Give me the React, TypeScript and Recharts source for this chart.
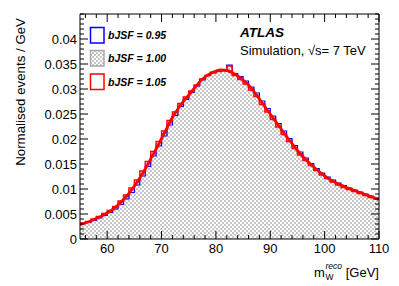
import React from "react";
import { ComposedChart, Area, Line, XAxis, YAxis, Customized } from "recharts";

// bin low edges (GeV), last entry closes the final step
const binEdges = [
  55, 56, 57, 58, 59, 60, 61, 62, 63, 64, 65, 66, 67, 68, 69, 70, 71, 72, 73, 74,
  75, 76, 77, 78, 79, 80, 81, 82, 83, 84, 85, 86, 87, 88, 89, 90, 91, 92, 93, 94,
  95, 96, 97, 98, 99, 100, 101, 102, 103, 104, 105, 106, 107, 108, 109, 110,
];

// bJSF = 1.00 (nominal)
const nominal = [
  0.0031, 0.0034, 0.0039, 0.0043, 0.0049, 0.0055, 0.0063, 0.0073, 0.0084, 0.0098,
  0.0113, 0.0131, 0.015, 0.017, 0.019, 0.0211, 0.0233, 0.025, 0.0268, 0.0281,
  0.0294, 0.0307, 0.0319, 0.0327, 0.0333, 0.0336, 0.0338, 0.0347, 0.0329, 0.0322,
  0.0313, 0.0301, 0.0288, 0.0272, 0.0257, 0.0242, 0.0227, 0.0212, 0.0198, 0.0184,
  0.0171, 0.0159, 0.0149, 0.0139, 0.013, 0.0122, 0.0116, 0.011, 0.0105, 0.0101,
  0.0097, 0.0093, 0.0089, 0.0085, 0.0081,
];

// bJSF = 0.95
const bjsfDown = [
  0.0031, 0.0033, 0.0037, 0.0042, 0.0047, 0.0053, 0.006, 0.0069, 0.008, 0.0093,
  0.0108, 0.0126, 0.0145, 0.0166, 0.0186, 0.0206, 0.0228, 0.0247, 0.0265, 0.0279,
  0.0293, 0.0306, 0.0318, 0.0327, 0.0334, 0.0337, 0.0339, 0.0348, 0.0331, 0.0325,
  0.0316, 0.0304, 0.0292, 0.0276, 0.0261, 0.0246, 0.0231, 0.0216, 0.0201, 0.0187,
  0.0174, 0.0162, 0.0151, 0.0141, 0.0132, 0.0124, 0.0118, 0.0112, 0.0107, 0.0102,
  0.0098, 0.0094, 0.009, 0.0086, 0.0082,
];

// bJSF = 1.05
const bjsfUp = [
  0.0032, 0.0035, 0.004, 0.0045, 0.0051, 0.0057, 0.0065, 0.0076, 0.0088, 0.0102,
  0.0118, 0.0136, 0.0155, 0.0175, 0.0195, 0.0216, 0.0237, 0.0254, 0.0271, 0.0284,
  0.0296, 0.0308, 0.032, 0.0327, 0.0332, 0.0335, 0.0337, 0.0346, 0.0327, 0.0319,
  0.031, 0.0298, 0.0285, 0.0269, 0.0254, 0.0239, 0.0224, 0.0209, 0.0195, 0.0181,
  0.0168, 0.0157, 0.0147, 0.0137, 0.0128, 0.0121, 0.0114, 0.0108, 0.0103, 0.0099,
  0.0095, 0.0091, 0.0087, 0.0083, 0.008,
];

// fitted template for bJSF = 1.05, sampled at the bin edges
const fitValues = [
  0.0029, 0.0032, 0.0036, 0.0041, 0.0046, 0.0052, 0.0059, 0.0068, 0.0079, 0.0091,
  0.0106, 0.0122, 0.014, 0.016, 0.018, 0.0201, 0.0222, 0.0243, 0.026, 0.0275,
  0.0288, 0.0301, 0.0314, 0.0324, 0.0331, 0.0336, 0.0338, 0.0337, 0.0333, 0.0326,
  0.0318, 0.0308, 0.0295, 0.028, 0.0265, 0.025, 0.0235, 0.022, 0.0205, 0.0191,
  0.0177, 0.0165, 0.0154, 0.0144, 0.0135, 0.0126, 0.0119, 0.0113, 0.0108, 0.0103,
  0.0099, 0.0095, 0.0091, 0.0087, 0.0083, 0.0079,
];

const seriesNames = ["bJSF = 0.95", "bJSF = 1.00", "bJSF = 1.05"];
const xMajorTicks = [60, 70, 80, 90, 100, 110];
const xTickLabels = ["60", "70", "80", "90", "100", "110"];
const yMajorTicks = [0, 0.005, 0.01, 0.015, 0.02, 0.025, 0.03, 0.035, 0.04];
const yTickLabels = ["0", "0.005", "0.01", "0.015", "0.02", "0.025", "0.03", "0.035", "0.04"];

const FONT = "'Liberation Sans', Arial, Helvetica, sans-serif";

const last = (arr: number[], i: number) => arr[Math.min(i, arr.length - 1)];
const data = binEdges.map((x, i) => ({
  x,
  nom: last(nominal, i),
  down: last(bjsfDown, i),
  up: last(bjsfUp, i),
  fit: fitValues[i],
}));

const xTicks: number[] = [];
for (let v = 56; v <= 110; v += 2) xTicks.push(v);
const yTicks: number[] = [];
for (let i = 0; i <= 45; i++) yTicks.push(i / 1000);

const findLabel = (v: number, majors: number[], labels: string[]) => {
  const idx = majors.findIndex((m) => Math.abs(m - v) < 1e-7);
  return idx >= 0 ? labels[idx] : null;
};

const BottomTick = (props: any) => {
  const { x, y, payload } = props;
  const label = findLabel(payload.value, xMajorTicks, xTickLabels);
  return (
    <g>
      <line x1={x} x2={x} y1={y} y2={y - (label ? 8 : 4)} stroke="#000" />
      {label && (
        <text x={x} y={y + 14} textAnchor="middle" fontSize={13} fontFamily={FONT} fill="#000">
          {label}
        </text>
      )}
    </g>
  );
};

const TopTick = (props: any) => {
  const { x, y, payload } = props;
  const major = findLabel(payload.value, xMajorTicks, xTickLabels) !== null;
  return <line x1={x} x2={x} y1={y} y2={y + (major ? 8 : 4)} stroke="#000" />;
};

const LeftTick = (props: any) => {
  const { x, y, payload } = props;
  const label = findLabel(payload.value, yMajorTicks, yTickLabels);
  return (
    <g>
      <line x1={x} x2={x + (label ? 8 : 4)} y1={y} y2={y} stroke="#000" />
      {label && (
        <text x={x - 3} y={y + 4.5} textAnchor="end" fontSize={13} fontFamily={FONT} fill="#000">
          {label}
        </text>
      )}
    </g>
  );
};

const RightTick = (props: any) => {
  const { x, y, payload } = props;
  const major = findLabel(payload.value, yMajorTicks, yTickLabels) !== null;
  return <line x1={x} x2={x - (major ? 8 : 4)} y1={y} y2={y} stroke="#000" />;
};

const Annotations = () => (
  <g fontFamily={FONT} fill="#000">
    {/* legend */}
    <rect x={90.5} y={27.5} width={13.5} height={15.5} fill="none" stroke="#0000ff" strokeWidth={1.5} />
    <rect x={90.5} y={50.5} width={13.5} height={15.5} fill="url(#checker)" stroke="#a8a8a8" strokeWidth={1.5} />
    <rect x={90.5} y={74} width={13.5} height={15.5} fill="none" stroke="#ff0000" strokeWidth={1.5} />
    {seriesNames.map((n, i) => (
      <text key={n} x={108} y={39 + i * 23.3} fontSize={10.5} fontWeight="bold" fontStyle="italic">
        {n}
      </text>
    ))}
    {/* ATLAS label */}
    <text x={240} y={37} fontSize={13.5} fontWeight="bold" fontStyle="italic">ATLAS</text>
    <text x={240} y={55} fontSize={13}>Simulation, √s= 7 TeV</text>
    {/* axis titles */}
    <text x={314} y={277} fontSize={13}>m</text>
    <text x={325.5} y={268.5} fontSize={8.5} fontStyle="italic">reco</text>
    <text x={325.5} y={279.5} fontSize={8.5}>W</text>
    <text x={379} y={277} fontSize={13} textAnchor="end">[GeV]</text>
    <text x={24.5} y={18} fontSize={13.3} textAnchor="end" transform="rotate(-90 24.5 18)">
      Normalised events / GeV
    </text>
  </g>
);

export default function App() {
  return (
    <div style={{ position: "absolute", left: 0, top: 0, width: 399, height: 286, background: "#fff", fontFamily: FONT }}>
      <ComposedChart width={399} height={286} data={data} margin={{ top: 0, right: 0, bottom: 0, left: 0 }}>
        <defs>
          <pattern id="checker" patternUnits="userSpaceOnUse" width={4} height={4}>
            <rect x={0} y={0} width={4} height={4} fill="#ffffff" />
            <rect x={0} y={0} width={2} height={2} fill="#c6c6c6" />
            <rect x={2} y={2} width={2} height={2} fill="#c6c6c6" />
          </pattern>
        </defs>
        <XAxis
          dataKey="x"
          type="number"
          domain={[55, 110]}
          allowDataOverflow
          ticks={xTicks}
          interval={0}
          height={47}
          tickSize={0}
          tickMargin={0}
          tickLine={false}
          axisLine={{ stroke: "#000" }}
          tick={<BottomTick />}
        />
        <XAxis
          xAxisId="top"
          orientation="top"
          dataKey="x"
          type="number"
          domain={[55, 110]}
          allowDataOverflow
          ticks={xTicks}
          interval={0}
          height={14}
          tickSize={0}
          tickMargin={0}
          tickLine={false}
          axisLine={{ stroke: "#000" }}
          tick={<TopTick />}
        />
        <YAxis
          type="number"
          domain={[0, 0.045]}
          allowDataOverflow
          ticks={yTicks}
          interval={0}
          width={80}
          tickSize={0}
          tickMargin={0}
          tickLine={false}
          axisLine={{ stroke: "#000" }}
          tick={<LeftTick />}
        />
        <YAxis
          yAxisId="right"
          orientation="right"
          type="number"
          domain={[0, 0.045]}
          allowDataOverflow
          ticks={yTicks}
          interval={0}
          width={20}
          tickSize={0}
          tickMargin={0}
          tickLine={false}
          axisLine={{ stroke: "#000" }}
          tick={<RightTick />}
        />
        <Area
          dataKey="nom"
          type="stepAfter"
          fill="url(#checker)"
          fillOpacity={1}
          stroke="#a0a0a0"
          strokeWidth={1}
          baseValue={0}
          isAnimationActive={false}
          dot={false}
          activeDot={false}
        />
        <Line dataKey="down" type="stepAfter" stroke="#0000ff" strokeWidth={1.2} dot={false} activeDot={false} isAnimationActive={false} />
        <Line dataKey="up" type="stepAfter" stroke="#ff0000" strokeWidth={1.4} dot={false} activeDot={false} isAnimationActive={false} />
        <Line dataKey="fit" type="monotone" stroke="#ff0000" strokeWidth={2.8} dot={false} activeDot={false} isAnimationActive={false} />
        <Customized component={Annotations} />
      </ComposedChart>
    </div>
  );
}
